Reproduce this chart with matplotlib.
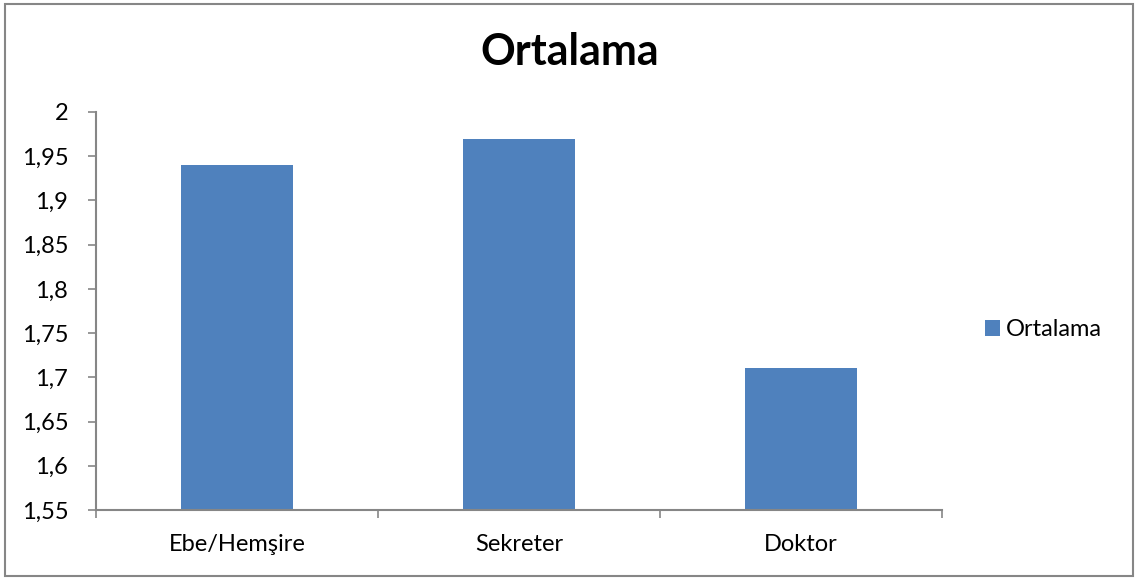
import numpy as np
import matplotlib.pyplot as plt
from matplotlib.patches import Rectangle

categories = ["Ebe/Hemşire", "Sekreter", "Doktor"]
values = [1.94, 1.97, 1.71]
y_ticks = [1.55, 1.6, 1.65, 1.7, 1.75, 1.8, 1.85, 1.9, 1.95, 2.0]
series_name = "Ortalama"

plt.rcParams['font.family'] = ['Lato', 'DejaVu Sans']

W, H = 1137, 578
fig = plt.figure(figsize=(W / 100, H / 100), dpi=100)
ax = fig.add_axes([96 / W, 1 - 510 / H, (942 - 96) / W, (510 - 112) / H])

x = np.arange(len(categories))
ax.bar(x, values, width=0.4, color='#4f81bd', label=series_name, zorder=2)

ax.set_xlim(-0.5, len(categories) - 0.5)
ax.set_ylim(1.55, 2.0)
ax.set_yticks(y_ticks)
ax.set_yticklabels([f"{t:g}".replace('.', ',') for t in y_ticks], fontsize=17)
ax.set_xticks(x)
ax.set_xticklabels(categories, fontsize=17)
ax.set_xticks(np.arange(len(categories) + 1) - 0.5, minor=True)
ax.tick_params(axis='x', which='major', length=0, pad=17)
ax.tick_params(axis='x', which='minor', length=6, color='#868686', width=1.2)
ax.tick_params(axis='y', length=6, color='#868686', width=1.2, pad=14)

for s in ['top', 'right']:
    ax.spines[s].set_visible(False)
for s in ['left', 'bottom']:
    ax.spines[s].set_color('#868686')
    ax.spines[s].set_linewidth(1.5)

fig.text(570 / W, 1 - 52 / H, series_name, fontsize=31, fontweight='bold',
         ha='center', va='center')

leg = fig.legend(loc='center left', bbox_to_anchor=(973 / W, 1 - 330 / H),
                 frameon=False, fontsize=17, handlelength=0.65, handleheight=0.65,
                 handletextpad=0.25, borderpad=0)

fig.patches.append(Rectangle((5 / W, 2 / H), 1128 / W, 572 / H, transform=fig.transFigure,
                             fill=False, edgecolor='#868686', linewidth=1.5))

fig.savefig('out.png', dpi=100)
